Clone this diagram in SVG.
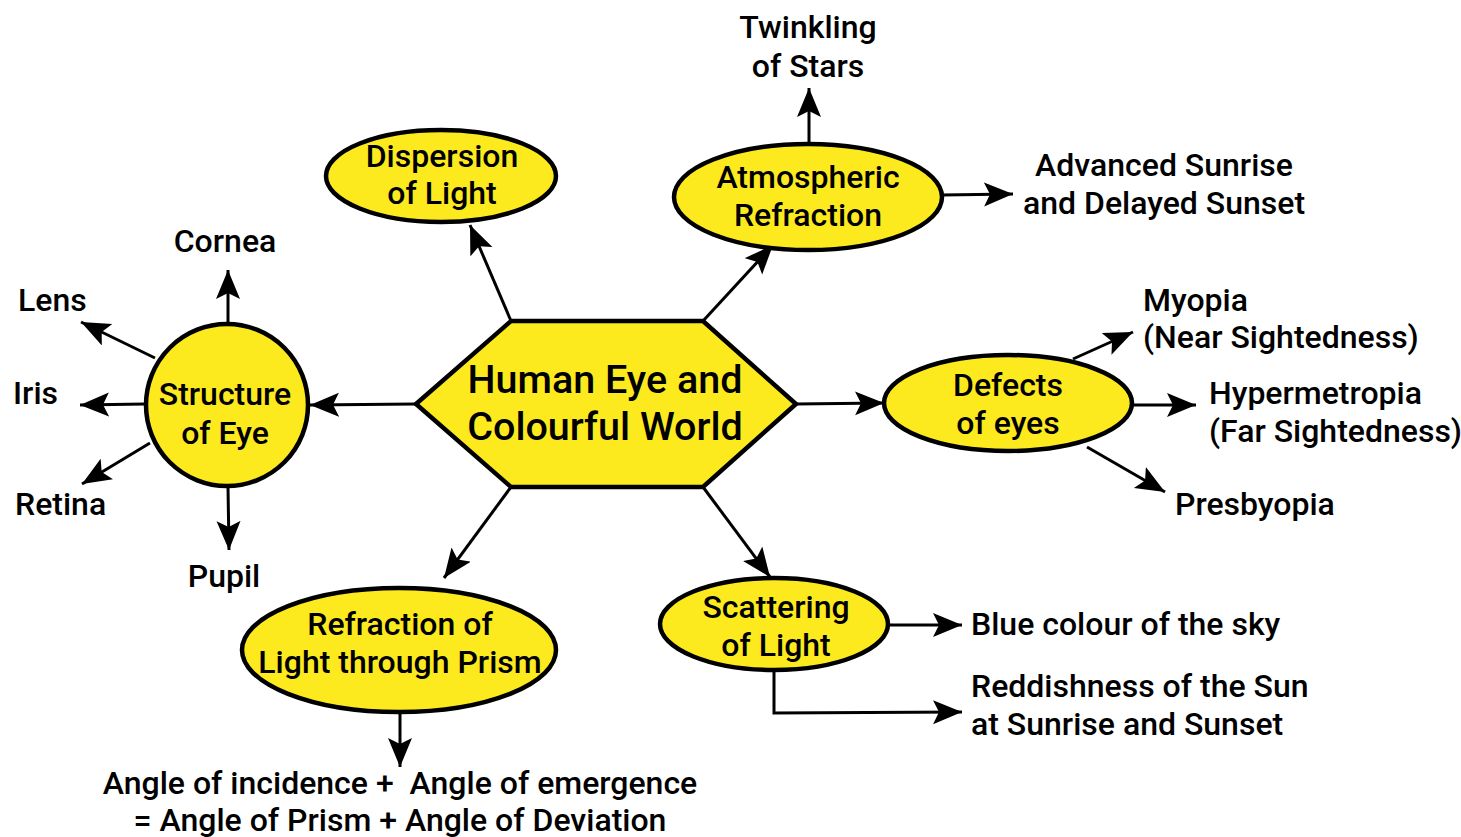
<svg xmlns="http://www.w3.org/2000/svg" width="1461" height="837" viewBox="0 0 1461 837">
<defs>
<marker id="ah" markerUnits="userSpaceOnUse" markerWidth="32" markerHeight="28" refX="29" refY="12" orient="auto">
<path d="M0,0 L29,12 L0,24 L6,12 z" fill="#000"/>
</marker>
<style>
.n{fill:#FCEA1F;stroke:#000;stroke-width:4.5}
.t{font-family:Roboto,"Liberation Sans",sans-serif;font-weight:500;font-size:32px;fill:#000}
.m{text-anchor:middle}
.c{fill:none;stroke:#000;stroke-width:3;marker-end:url(#ah)}
</style>
</defs>
<rect width="1461" height="837" fill="#fff"/>
<g id="connectors">
<line class="c" x1="416" y1="404" x2="310" y2="405"/>
<line class="c" x1="511" y1="321" x2="470" y2="225"/>
<line class="c" x1="703" y1="321" x2="773" y2="245"/>
<line class="c" x1="796" y1="404" x2="884" y2="403"/>
<line class="c" x1="703" y1="487" x2="770" y2="577"/>
<line class="c" x1="511" y1="487" x2="444" y2="578"/>
<line class="c" x1="228" y1="323" x2="228" y2="270"/>
<line class="c" x1="155" y1="358" x2="81" y2="322"/>
<line class="c" x1="145" y1="404" x2="80" y2="405"/>
<line class="c" x1="150" y1="443" x2="82" y2="484"/>
<line class="c" x1="228" y1="487" x2="229" y2="550"/>
<line class="c" x1="809" y1="143" x2="809" y2="88"/>
<line class="c" x1="942" y1="195" x2="1013" y2="194"/>
<line class="c" x1="1073" y1="359" x2="1133" y2="332"/>
<line class="c" x1="1133" y1="405" x2="1196" y2="405"/>
<line class="c" x1="1087" y1="447" x2="1165" y2="492"/>
<line class="c" x1="889" y1="625" x2="962" y2="625"/>
<polyline class="c" points="774,671 774,713 962,712"/>
<line class="c" x1="400" y1="713" x2="400" y2="767"/>
</g>
<g id="center">
<polygon class="n" points="416,404 511,321 703,321 796,404 703,487 511,487"/>
<text class="t m" x="605" y="393" style="font-size:39.5px">Human Eye and</text>
<text class="t m" x="605" y="440" style="font-size:39.5px">Colourful World</text>
</g>
<g id="structure">
<circle class="n" cx="227" cy="405" r="81"/>
<text class="t m" x="225" y="405">Structure</text>
<text class="t m" x="225" y="444">of Eye</text>
</g>
<g id="dispersion">
<ellipse class="n" cx="441" cy="176" rx="115" ry="46"/>
<text class="t m" x="442" y="167">Dispersion</text>
<text class="t m" x="442" y="204">of Light</text>
</g>
<g id="atmospheric">
<ellipse class="n" cx="808" cy="197" rx="134" ry="53"/>
<text class="t m" x="808" y="188">Atmospheric</text>
<text class="t m" x="808" y="226">Refraction</text>
</g>
<g id="defects">
<ellipse class="n" cx="1008" cy="403" rx="124" ry="48"/>
<text class="t m" x="1008" y="396">Defects</text>
<text class="t m" x="1008" y="434">of eyes</text>
</g>
<g id="scattering">
<ellipse class="n" cx="774" cy="624" rx="114" ry="46"/>
<text class="t m" x="776" y="618">Scattering</text>
<text class="t m" x="776" y="656">of Light</text>
</g>
<g id="prism">
<ellipse class="n" cx="399" cy="650" rx="157" ry="62"/>
<text class="t m" x="400" y="635">Refraction of</text>
<text class="t m" x="400" y="673">Light through Prism</text>
</g>
<g id="labels">
<text class="t m" x="225" y="252">Cornea</text>
<text class="t" x="18" y="311">Lens</text>
<text class="t" x="13" y="404">Iris</text>
<text class="t" x="15" y="515">Retina</text>
<text class="t m" x="224" y="587">Pupil</text>
<text class="t m" x="808" y="38">Twinkling</text>
<text class="t m" x="808" y="77">of Stars</text>
<text class="t m" x="1164" y="176">Advanced Sunrise</text>
<text class="t m" x="1164" y="214">and Delayed Sunset</text>
<text class="t" x="1143" y="311">Myopia</text>
<text class="t" x="1143" y="348">(Near Sightedness)</text>
<text class="t" x="1209" y="404">Hypermetropia</text>
<text class="t" x="1209" y="442">(Far Sightedness)</text>
<text class="t" x="1175" y="515">Presbyopia</text>
<text class="t" x="971" y="635">Blue colour of the sky</text>
<text class="t" x="971" y="697">Reddishness of the Sun</text>
<text class="t" x="971" y="735">at Sunrise and Sunset</text>
<text class="t m" x="400" y="794" xml:space="preserve">Angle of incidence +  Angle of emergence</text>
<text class="t m" x="400" y="831">= Angle of Prism + Angle of Deviation</text>
</g>
</svg>
